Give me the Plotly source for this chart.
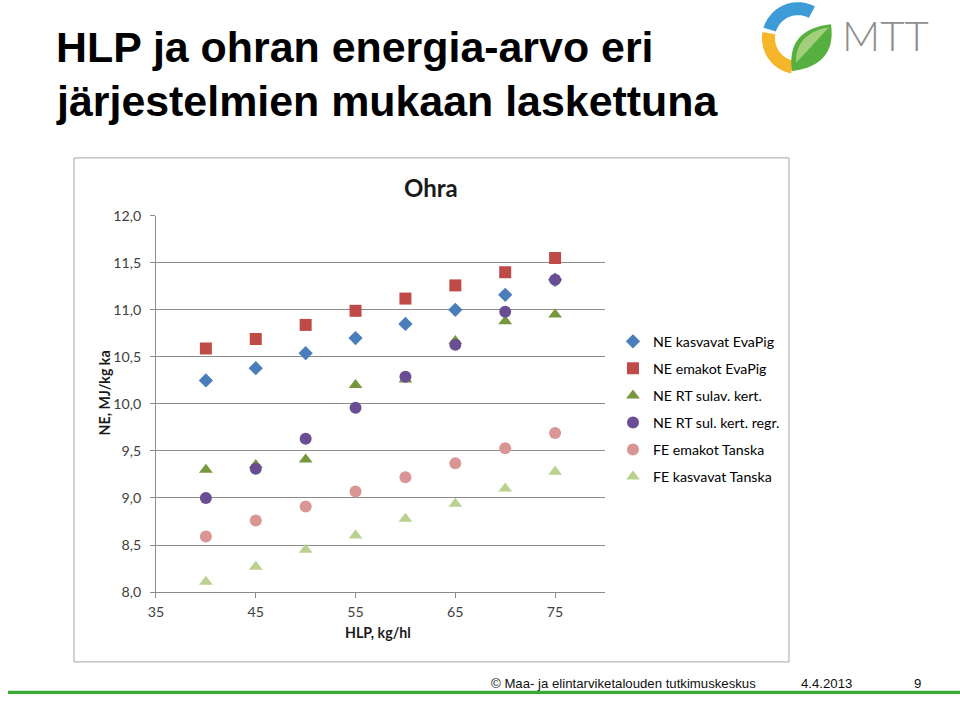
import numpy as np
import plotly.graph_objects as go

# The page (960x702) is photographed with a small inset (~8px left/top, scale ~0.992 x 0.978);
# these helpers map target picture pixels to paper fractions of the 960x702 figure.
W, H = 960, 702
SX, SY, OX, OY = 0.9917, 0.9777, 8.0, 7.8
def px(x): return ((x - OX) / SX) / W
def py(y): return 1 - ((y - OY) / SY) / H

# ---- data ----
hlp = [40, 45, 50, 55, 60, 65, 70, 75]
ne_kasvavat_evapig = [10.25, 10.38, 10.54, 10.70, 10.85, 11.00, 11.16, 11.32]
ne_emakot_evapig = [10.59, 10.69, 10.84, 10.99, 11.12, 11.26, 11.40, 11.55]
ne_rt_sulav_kert = [9.30, 9.35, 9.41, 10.20, 10.26, 10.67, 10.88, 10.95]
ne_rt_sul_kert_regr = [9.00, 9.31, 9.63, 9.96, 10.29, 10.63, 10.98, 11.32]
fe_emakot_tanska = [8.59, 8.76, 8.91, 9.07, 9.22, 9.37, 9.53, 9.69]
fe_kasvavat_tanska = [8.11, 8.27, 8.45, 8.60, 8.78, 8.94, 9.10, 9.28]

series_names = ["NE kasvavat EvaPig", "NE emakot EvaPig", "NE RT sulav. kert.",
                "NE RT sul. kert. regr.", "FE emakot Tanska", "FE kasvavat Tanska"]
series_vals = [ne_kasvavat_evapig, ne_emakot_evapig, ne_rt_sulav_kert,
               ne_rt_sul_kert_regr, fe_emakot_tanska, fe_kasvavat_tanska]
symbols = ["diamond", "square", "triangle-up", "circle", "circle", "triangle-up"]
colors = ["#4A7EBB", "#BE4B48", "#77973D", "#6A4E94", "#D99694", "#B9D28F"]
sizes = [11, 12, 12, 12, 12, 12]

x_ticks = [35, 45, 55, 65, 75]

fig = go.Figure()
for i, (name, vals) in enumerate(zip(series_names, series_vals)):
    fig.add_trace(go.Scatter(
        x=hlp, y=vals, mode="markers", name=name, legendgroup=f"g{i}",
        marker=dict(symbol=symbols[i], color=colors[i], size=sizes[i], line=dict(width=0)),
    ))

chart_font = "Lato"
tick_col = "#404040"
grid_col = "#8C8C8C"

fig.update_layout(
    width=W, height=H,
    margin=dict(l=0, r=0, t=0, b=0),
    paper_bgcolor="white", plot_bgcolor="white",
    separators=", ",
    showlegend=True,
    legend=dict(x=px(613), y=py(325), xanchor="left", yanchor="top",
                font=dict(family=chart_font, size=14.2, color="#000"),
                traceorder="grouped", tracegroupgap=5.6, bgcolor="rgba(0,0,0,0)",
                itemwidth=30),
    xaxis=dict(domain=[px(156), px(605)], range=[35, 80], tickvals=x_ticks,
               ticks="outside", ticklen=5, tickcolor=grid_col, ticklabelstandoff=2,
               showline=True, linecolor=grid_col, linewidth=1, showgrid=False, zeroline=False,
               tickfont=dict(family=chart_font, size=14.2, color=tick_col)),
    yaxis=dict(domain=[py(592), py(215)], range=[8, 12], dtick=0.5, tickformat=".1f",
               ticks="outside", ticklen=5, tickcolor=grid_col, ticklabelstandoff=6,
               showline=True, linecolor=grid_col, linewidth=1,
               showgrid=True, gridcolor=grid_col, gridwidth=1, zeroline=False,
               tickfont=dict(family=chart_font, size=14.2, color=tick_col)),
)

shapes = []
# chart frame
shapes.append(dict(type="rect", xref="paper", yref="paper", x0=px(74), y0=py(662), x1=px(789), y1=py(157),
                   line=dict(color="#A6A6A6", width=1), fillcolor="rgba(0,0,0,0)", layer="below"))
# bottom green bar
shapes.append(dict(type="rect", xref="paper", yref="paper", x0=0, y0=0, x1=1, y1=py(691),
                   line=dict(width=0), fillcolor="#3AAA35"))

# logo ring segments
def ring(cx, cy, r_out, r_in, a0, a1, n=40):
    a = np.radians(np.linspace(a0, a1, n))
    outer = [(cx + r_out * np.cos(t), cy - r_out * np.sin(t)) for t in a]
    inner = [(cx + r_in * np.cos(t), cy - r_in * np.sin(t)) for t in a[::-1]]
    pts = outer + inner
    d = "M " + " L ".join(f"{px(x):.5f},{py(y):.5f}" for x, y in pts) + " Z"
    return d

cx, cy = 798, 37
shapes.append(dict(type="path", xref="paper", yref="paper", path=ring(cx, cy, 36, 23, 62, 163),
                   fillcolor="#3D9BD8", line=dict(width=0)))
shapes.append(dict(type="path", xref="paper", yref="paper", path=ring(cx, cy, 36, 23, 170, 259),
                   fillcolor="#F7B52A", line=dict(width=0)))
# leaf
def leaf(p0, p1, c0, c1):
    return (f"M {px(p0[0]):.5f},{py(p0[1]):.5f} Q {px(c0[0]):.5f},{py(c0[1]):.5f} {px(p1[0]):.5f},{py(p1[1]):.5f} "
            f"Q {px(c1[0]):.5f},{py(c1[1]):.5f} {px(p0[0]):.5f},{py(p0[1]):.5f} Z")
shapes.append(dict(type="path", xref="paper", yref="paper",
                   path=leaf((792, 70), (831, 23), (786, 28), (837, 64)),
                   fillcolor="#56B040", line=dict(width=0)))
shapes.append(dict(type="path", xref="paper", yref="paper",
                   path=leaf((796, 62), (829, 26), (795, 32), (816, 40)),
                   fillcolor="#A3CF7C", line=dict(width=0)))
fig.update_layout(shapes=shapes)

title_font = dict(family="Liberation Sans", size=42.9, color="#000")
ann = []
ann.append(dict(text="<b>HLP ja ohran energia-arvo eri</b>",
                x=px(54), y=py(46), xref="paper", yref="paper", xanchor="left", yanchor="middle",
                align="left", showarrow=False, font=title_font))
ann.append(dict(text="<b>järjestelmien mukaan laskettuna</b>",
                x=px(54), y=py(99.5), xref="paper", yref="paper", xanchor="left", yanchor="middle",
                align="left", showarrow=False, font=title_font))
ann.append(dict(text="MTT", x=px(840), y=py(34), xref="paper", yref="paper", xanchor="left", yanchor="middle",
                showarrow=False, font=dict(family="Lato", size=42, color="#8E8E8E", weight=300)))
ann.append(dict(text="<b>Ohra</b>", x=px(431), y=py(187), xref="paper", yref="paper",
                xanchor="center", yanchor="middle", showarrow=False,
                font=dict(family=chart_font, size=24, color="#1A1A1A")))
ann.append(dict(text="<b>NE, MJ/kg ka</b>", x=px(104), y=py(392), xref="paper", yref="paper",
                xanchor="center", yanchor="middle", textangle=-90, showarrow=False,
                font=dict(family=chart_font, size=14.2, color="#1A1A1A")))
ann.append(dict(text="<b>HLP, kg/hl</b>", x=px(378), y=py(633), xref="paper", yref="paper",
                xanchor="center", yanchor="middle", showarrow=False,
                font=dict(family=chart_font, size=14.2, color="#1A1A1A")))
foot_font = dict(family="Liberation Sans", size=13.2, color="#111")
foot_y = py(683.5)
ann.append(dict(text="© Maa- ja elintarviketalouden tutkimuskeskus", x=px(489), y=foot_y,
                xref="paper", yref="paper", xanchor="left", yanchor="middle", showarrow=False, font=foot_font))
ann.append(dict(text="4.4.2013", x=px(799), y=foot_y,
                xref="paper", yref="paper", xanchor="left", yanchor="middle", showarrow=False, font=foot_font))
ann.append(dict(text="9", x=px(912), y=foot_y,
                xref="paper", yref="paper", xanchor="left", yanchor="middle", showarrow=False, font=foot_font))
fig.update_layout(annotations=ann)

post = (
    "var s=document.createElement('style');"
    "s.innerHTML='html,body{margin:0 !important;padding:0 !important;overflow:hidden !important;}';"
    "document.head.appendChild(s);"
)
fig.write_html("out.html", config={"displayModeBar": False}, post_script=post)
